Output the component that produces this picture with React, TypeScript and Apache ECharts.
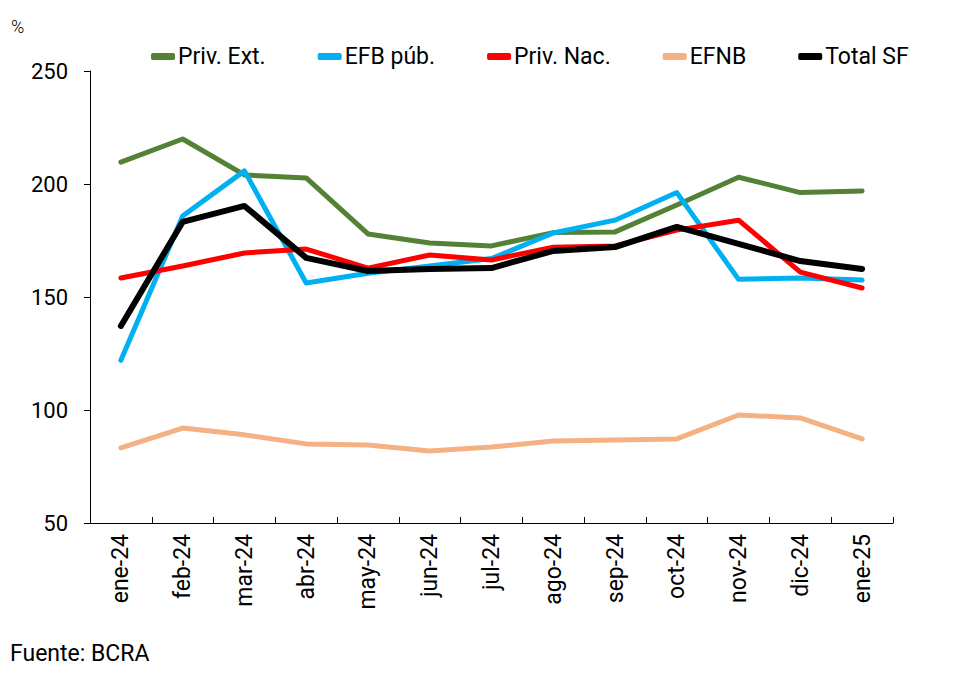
import React, { useEffect, useRef } from "react";
import * as echarts from "echarts";

const categories = ["ene-24","feb-24","mar-24","abr-24","may-24","jun-24","jul-24","ago-24","sep-24","oct-24","nov-24","dic-24","ene-25"];
const privExt = [209.7, 219.9, 204.0, 202.7, 177.9, 173.9, 172.6, 178.5, 178.8, 190.7, 203.0, 196.2, 196.9];
const efbPub = [122.0, 185.8, 205.8, 156.2, 160.5, 163.7, 167.0, 178.3, 184.0, 196.2, 157.8, 158.4, 157.5];
const privNac = [158.4, 163.7, 169.5, 171.2, 162.8, 168.6, 166.4, 172.0, 172.6, 179.6, 184.0, 161.0, 154.0];
const efnb = [83.2, 92.0, 89.0, 85.0, 84.5, 81.9, 83.6, 86.3, 86.7, 87.2, 97.8, 96.5, 87.2];
const totalSF = [137.2, 183.2, 190.3, 167.3, 161.5, 162.4, 162.8, 170.4, 172.1, 181.0, 173.5, 165.9, 162.4];

const FONT = "Roboto";

export default function App() {
  const ref = useRef<HTMLDivElement>(null);
  useEffect(() => {
    if (!ref.current) return;
    const chart = echarts.init(ref.current, null, { renderer: "svg" });
    const mk = (name: string, data: number[], color: string, width = 5) => ({
      name,
      type: "line",
      data,
      symbol: "none",
      lineStyle: { color, width, cap: "round", join: "round" },
      itemStyle: { color },
    });
    chart.setOption({
      animation: false,
      backgroundColor: "#ffffff",
      textStyle: { fontFamily: FONT, color: "#000" },
      grid: { left: 90, right: 67, top: 71, bottom: 150, containLabel: false },
      legend: {
        top: 40,
        left: 146,
        itemGap: 52,
        itemWidth: 24,
        itemHeight: 7,
        icon: "roundRect",
        textStyle: { fontFamily: FONT, fontSize: 23, color: "#000", padding: [0, 0, 0, -2] },
        data: ["Priv. Ext.", "EFB púb.", "Priv. Nac.", "EFNB", "Total SF"],
      },
      xAxis: {
        type: "category",
        data: categories,
        boundaryGap: true,
        axisLine: { lineStyle: { color: "#000", width: 1 } },
        axisTick: { show: true, inside: true, length: 6, lineStyle: { color: "#000" } },
        axisLabel: { rotate: 90, fontSize: 23, color: "#000", fontFamily: FONT, margin: 11, interval: 0 },
        splitLine: { show: false },
      },
      yAxis: {
        type: "value",
        min: 50,
        max: 250,
        interval: 50,
        axisLine: { show: true, lineStyle: { color: "#000", width: 1 } },
        axisTick: { show: true, inside: false, length: 6, lineStyle: { color: "#000" } },
        axisLabel: { fontSize: 22, color: "#000", fontFamily: FONT, margin: 22 },
        splitLine: { show: false },
      },
      graphic: [
        { type: "text", left: 11, top: 17, style: { text: "%", fontSize: 18, fontWeight: 300, fontFamily: FONT, fill: "#000" } },
        { type: "text", left: 10, top: 642, style: { text: "Fuente: BCRA", fontSize: 23, fontFamily: FONT, fill: "#000" } },
      ],
      series: [
        mk("Priv. Ext.", privExt, "#538135"),
        mk("EFB púb.", efbPub, "#00B0F0"),
        mk("Priv. Nac.", privNac, "#FF0000"),
        mk("EFNB", efnb, "#F4B183"),
        mk("Total SF", totalSF, "#000000", 6),
      ],
    });
    return () => chart.dispose();
  }, []);
  return <div ref={ref} style={{ width: 960, height: 673, position: "absolute", left: 0, top: 0 }} />;
}
